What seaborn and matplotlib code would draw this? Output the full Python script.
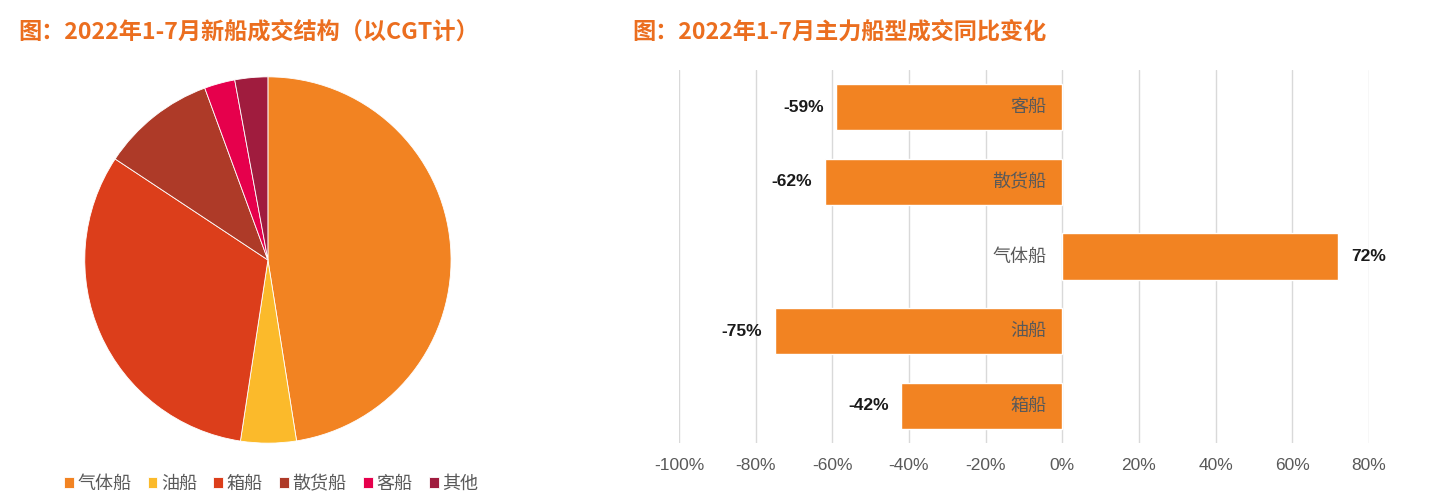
import pandas as pd
import seaborn as sns
import matplotlib.pyplot as plt

# pie: 2022 Jan-Jul newbuild contracts by CGT share (%)
ship_types = ['气体船', '油船', '箱船', '散货船', '客船', '其他']
cgt_share = [47.5, 4.9, 31.9, 10.1, 2.7, 2.9]
pie_colors = ['#F28322', '#FBBA2B', '#DC3E1B', '#AE3A28', '#E6004C', '#A01C3E']

# bars: yoy change of main ship types
yoy_types = ['客船', '散货船', '气体船', '油船', '箱船']
yoy_change = [-0.59, -0.62, 0.72, -0.75, -0.42]
yoy_labels = ['-59%', '-62%', '72%', '-75%', '-42%']
x_ticks = [-1.0, -0.8, -0.6, -0.4, -0.2, 0.0, 0.2, 0.4, 0.6, 0.8]
x_tick_labels = ['-100%', '-80%', '-60%', '-40%', '-20%', '0%', '20%', '40%', '60%', '80%']

sns.set_theme(style='white')
plt.rcParams['font.family'] = ['Noto Sans CJK SC', 'DejaVu Sans']

title_color = '#EB6E1F'
gray = '#595959'

fig = plt.figure(figsize=(14.3, 5.03), dpi=100)

# left: pie
ax1 = fig.add_axes([0.058, 0.1153, 0.2587, 0.7356])
wedges, _ = ax1.pie(cgt_share, colors=pie_colors, startangle=90, counterclock=False,
                    radius=1, wedgeprops=dict(edgecolor='white', linewidth=0.6))
ax1.set_xlim(-1.01, 1.01)
ax1.set_ylim(-1.01, 1.01)
ax1.set_aspect('equal')

fig.legend(wedges, ship_types, loc='center', bbox_to_anchor=(271 / 1430, 19 / 503),
           ncol=6, frameon=False, fontsize=13, handlelength=0.55, handleheight=0.55,
           handletextpad=0.2, columnspacing=0.9, labelcolor=gray)

fig.text(18 / 1430, 1 - 32 / 503, '图：2022年1-7月新船成交结构（以CGT计）',
         fontsize=16.7, fontweight='bold', color=title_color, ha='left', va='center')

# right: horizontal bars
ax2 = fig.add_axes([0.4748, 0.1193, 0.4825, 0.7416])
df = pd.DataFrame({'type': yoy_types, 'change': yoy_change})
sns.barplot(data=df, x='change', y='type', orient='h', color='#F28322',
            saturation=1, width=0.62, ax=ax2)
ax2.set_xlim(-1.0, 0.8)
ax2.set_xticks(x_ticks)
ax2.set_xticklabels(x_tick_labels, family='Liberation Sans')
ax2.set_yticks([])
ax2.set_xlabel('')
ax2.set_ylabel('')
ax2.grid(axis='x', color='#D9D9D9', linewidth=1)
ax2.set_axisbelow(True)
sns.despine(ax=ax2, left=True, bottom=True)
ax2.tick_params(axis='x', length=0, pad=11, labelsize=12.5, labelcolor=gray)

ax2.bar_label(ax2.containers[0], labels=yoy_labels, padding=9, fontsize=12.5,
              fontweight='bold', color='#1A1A1A', family='Liberation Sans')
for i, t in enumerate(yoy_types):
    ax2.annotate(t, xy=(0, i), xytext=(-11.5, 0), textcoords='offset points',
                 ha='right', va='center', fontsize=13, color=gray)

fig.text(632 / 1430, 1 - 32 / 503, '图：2022年1-7月主力船型成交同比变化',
         fontsize=16.7, fontweight='bold', color=title_color, ha='left', va='center')

fig.savefig('out.png', dpi=100)
